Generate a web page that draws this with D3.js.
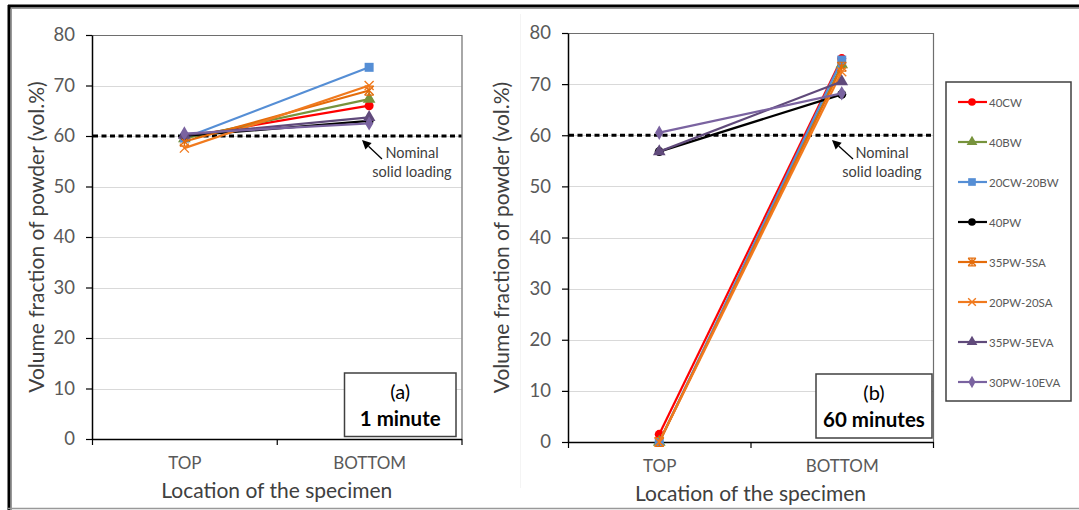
<!DOCTYPE html>
<html><head><meta charset="utf-8">
<script src="https://cdn.jsdelivr.net/npm/d3@7"></script>
<style>
body{margin:0;background:#fff;}
svg{display:block;font-family:Lato,"Open Sans",sans-serif;}
</style></head>
<body>
<svg id="chart" width="1079" height="510"></svg>
<script>
// ---- data ----
const categories = ["TOP", "BOTTOM"];
const seriesNames = ["40CW","40BW","20CW-20BW","40PW","35PW-5SA","20PW-20SA","35PW-5EVA","30PW-10EVA"];
const seriesColors = ["#ff0000","#77933c","#558ed5","#000000","#e46c0a","#f07a1e","#604a7b","#7a63a0"];
const seriesMarkers = ["circle","triangle","square","circle","asterisk","cross","triangle","diamond"];
const minute1Top    = [59.8, 59.5, 59.6, 60.0, 58.9, 57.6, 60.2, 60.5];
const minute1Bottom = [66.0, 67.3, 73.6, 63.0, 69.0, 70.0, 63.7, 62.5];
const minute60Top    = [1.5, 0, 0, 56.8, 0, 0, 56.8, 60.5];
const minute60Bottom = [75.0, 73.8, 74.7, 68.0, 73.4, 72.4, 70.5, 68.2];
const yTicks = [0,10,20,30,40,50,60,70,80];
const nominalLoading = 60;
const panelLabels = ["(a)", "(b)"];
const panelTimes = ["1 minute", "60 minutes"];

const svg = d3.select("#chart");

// outer frame
svg.append("line").attr("x1",8).attr("x2",1079).attr("y1",6).attr("y2",6).attr("stroke","#000").attr("stroke-width",3);
svg.append("line").attr("x1",8).attr("x2",1079).attr("y1",8.5).attr("y2",8.5).attr("stroke","#999").attr("stroke-width",1);
svg.append("line").attr("x1",9).attr("x2",9).attr("y1",5).attr("y2",510).attr("stroke","#000").attr("stroke-width",3);
svg.append("line").attr("x1",11.5).attr("x2",11.5).attr("y1",8).attr("y2",510).attr("stroke","#999").attr("stroke-width",1);
svg.append("line").attr("x1",8).attr("x2",1079).attr("y1",508.5).attr("y2",508.5).attr("stroke","#999").attr("stroke-width",1.5);
// faint chart-area edge of the second chart
svg.append("line").attr("x1",520.5).attr("x2",520.5).attr("y1",14).attr("y2",488).attr("stroke","#f4f4f4").attr("stroke-width",1);

function marker(g, type, color, x, y, s) {
  s = s || 1;
  if (type === "circle") {
    g.append("circle").attr("cx",x).attr("cy",y).attr("r",4.5*s).attr("fill",color);
  } else if (type === "square") {
    g.append("rect").attr("x",x-4.5*s).attr("y",y-4.5*s).attr("width",9*s).attr("height",9*s).attr("fill",color);
  } else if (type === "triangle") {
    g.append("path").attr("d",d3.symbol(d3.symbolTriangle, 70*s*s)()).attr("transform",`translate(${x},${y})`).attr("fill",color);
  } else if (type === "diamond") {
    g.append("path").attr("d",d3.symbol(d3.symbolDiamond, 60*s*s)()).attr("transform",`translate(${x},${y})`).attr("fill",color);
  } else if (type === "cross" || type === "asterisk") {
    const r = 4.5*s;
    g.append("path").attr("d",`M${x-r},${y-r}L${x+r},${y+r}M${x-r},${y+r}L${x+r},${y-r}` + (type==="asterisk" ? `M${x},${y-r}L${x},${y+r}` : ""))
      .attr("stroke",color).attr("stroke-width",1.4).attr("fill","none");
    if (type === "asterisk") {
      g.append("path").attr("d",`M${x-r},${y-r}L${x+r},${y-r}M${x-r},${y+r}L${x+r},${y+r}`).attr("stroke",color).attr("stroke-width",1.2);
    }
  }
}

function drawPanel(cfg) {
  const g = svg.append("g");
  const y = d3.scaleLinear().domain([0,80]).range([cfg.y0, cfg.y80]);
  const xEdge = d3.scaleLinear().domain([0,2]).range([cfg.left, cfg.right]);
  const x = d3.scalePoint().domain(categories).range([cfg.left, cfg.right]).padding(0.5);

  // gridlines
  g.selectAll("line.grid").data(yTicks.filter(t => t > 0 && t < 80)).join("line")
    .attr("x1",cfg.left).attr("x2",cfg.right)
    .attr("y1",d => Math.round(y(d))+0.5).attr("y2",d => Math.round(y(d))+0.5)
    .attr("stroke","#d9d9d9").attr("stroke-width",1);
  // plot area border (top + right)
  g.append("path").attr("d",`M${cfg.left},${Math.round(y(80))+0.5}H${cfg.right+0.5}V${y(0)}`)
    .attr("fill","none").attr("stroke","#6e6e6e").attr("stroke-width",1.2);

  // y axis
  const ya = g.append("g").attr("transform",`translate(${cfg.left},0)`)
    .call(d3.axisLeft(y).tickValues(yTicks).tickSize(6).tickPadding(11).tickSizeOuter(0));
  ya.select(".domain").attr("stroke","#000").attr("stroke-width",1.5);
  ya.selectAll(".tick line").attr("stroke","#000").attr("stroke-width",1.2);
  ya.selectAll(".tick text").attr("fill","#595959").attr("font-size",18.5).attr("font-family","Lato");

  // x axis: edge ticks and centred labels
  const xa = g.append("g").attr("transform",`translate(0,${cfg.y0})`)
    .call(d3.axisBottom(xEdge).tickValues([0,1,2]).tickSize(6).tickFormat("").tickSizeOuter(0));
  xa.select(".domain").attr("stroke","#000").attr("stroke-width",1.5);
  xa.selectAll(".tick line").attr("stroke","#000").attr("stroke-width",1.2);
  const xl = g.append("g").attr("transform",`translate(0,${cfg.y0})`)
    .call(d3.axisBottom(x).tickSize(0).tickPadding(18));
  xl.select(".domain").remove();
  xl.selectAll(".tick text").attr("fill","#595959").attr("font-size",17).attr("font-family","Lato");

  // axis titles
  g.append("text").attr("x",(cfg.left+cfg.right)/2).attr("y",cfg.y0+59)
    .attr("text-anchor","middle").attr("fill","#404040").attr("font-size",21).text("Location of the specimen");
  g.append("text").attr("transform",`translate(${cfg.titleX},${(cfg.y0+cfg.y80)/2}) rotate(-90)`)
    .attr("text-anchor","middle").attr("dominant-baseline","central").attr("fill","#404040").attr("font-size",21)
    .text("Volume fraction of powder (vol.%)");

  // nominal loading dashed line
  g.append("line").attr("x1",cfg.left+1).attr("x2",cfg.right).attr("y1",y(nominalLoading)).attr("y2",y(nominalLoading))
    .attr("stroke","#000").attr("stroke-width",3).attr("stroke-dasharray","5,3.5");

  // series
  seriesNames.forEach((name,i) => {
    const pts = [[x(categories[0]), y(cfg.top[i])],[x(categories[1]), y(cfg.bottom[i])]];
    g.append("path").attr("d",d3.line()(pts)).attr("stroke",seriesColors[i]).attr("stroke-width",2.2).attr("fill","none");
    pts.forEach(p => marker(g, seriesMarkers[i], seriesColors[i], p[0], p[1]));
  });

  // annotation
  const ax0 = cfg.arrow[0], ay0 = cfg.arrow[1], ax1 = cfg.arrow[2], ay1 = cfg.arrow[3];
  const ang = Math.atan2(ay1-ay0, ax1-ax0);
  const hl = 9, hw = 4.5;
  const bx = ax1 - hl*Math.cos(ang), by = ay1 - hl*Math.sin(ang);
  g.append("line").attr("x1",ax0).attr("y1",ay0).attr("x2",bx).attr("y2",by).attr("stroke","#000").attr("stroke-width",1.3);
  g.append("path").attr("d",`M${ax1},${ay1}L${bx - hw*Math.sin(ang)},${by + hw*Math.cos(ang)}L${bx + hw*Math.sin(ang)},${by - hw*Math.cos(ang)}Z`).attr("fill","#000");
  g.append("text").attr("x",cfg.noteX).attr("y",cfg.noteY).attr("text-anchor","middle").attr("fill","#404040").attr("font-size",14.5).text("Nominal");
  g.append("text").attr("x",cfg.noteX).attr("y",cfg.noteY+19).attr("text-anchor","middle").attr("fill","#404040").attr("font-size",14.5).text("solid loading");

  // label box
  const b = cfg.box;
  g.append("rect").attr("x",b[0]).attr("y",b[1]).attr("width",b[2]-b[0]).attr("height",b[3]-b[1])
    .attr("fill","#fff").attr("stroke","#404040").attr("stroke-width",1.5);
  g.append("text").attr("x",(b[0]+b[2])/2).attr("y",b[1]+26).attr("text-anchor","middle").attr("fill","#000").attr("font-size",20).text(cfg.label);
  g.append("text").attr("x",(b[0]+b[2])/2).attr("y",b[1]+53).attr("text-anchor","middle").attr("fill","#000").attr("font-size",20.5).attr("font-weight","bold").text(cfg.time);
}

drawPanel({left:92, right:461.5, y0:439, y80:35, titleX:35, top:minute1Top, bottom:minute1Bottom,
  arrow:[382,159,362,140], noteX:412, noteY:158, box:[344.5,373,456,436.5], label:panelLabels[0], time:panelTimes[0]});
drawPanel({left:568, right:933, y0:442, y80:33, titleX:500, top:minute60Top, bottom:minute60Bottom,
  arrow:[853,159,832,140], noteX:882, noteY:158, box:[816,374,932,438], label:panelLabels[1], time:panelTimes[1]});

// legend
const lg = svg.append("g");
lg.append("rect").attr("x",946).attr("y",82).attr("width",125).attr("height",319).attr("fill","#fff").attr("stroke","#404040").attr("stroke-width",1.5);
const ly = d3.scalePoint().domain(seriesNames).range([102,382]);
seriesNames.forEach((name,i) => {
  const yy = ly(name);
  lg.append("line").attr("x1",958).attr("x2",987).attr("y1",yy).attr("y2",yy).attr("stroke",seriesColors[i]).attr("stroke-width",2.2);
  marker(lg, seriesMarkers[i], seriesColors[i], 972, yy, 0.85);
  lg.append("text").attr("x",989).attr("y",yy).attr("dominant-baseline","central").attr("fill","#595959").attr("font-size",11.5).text(name);
});
</script>
</body></html>
